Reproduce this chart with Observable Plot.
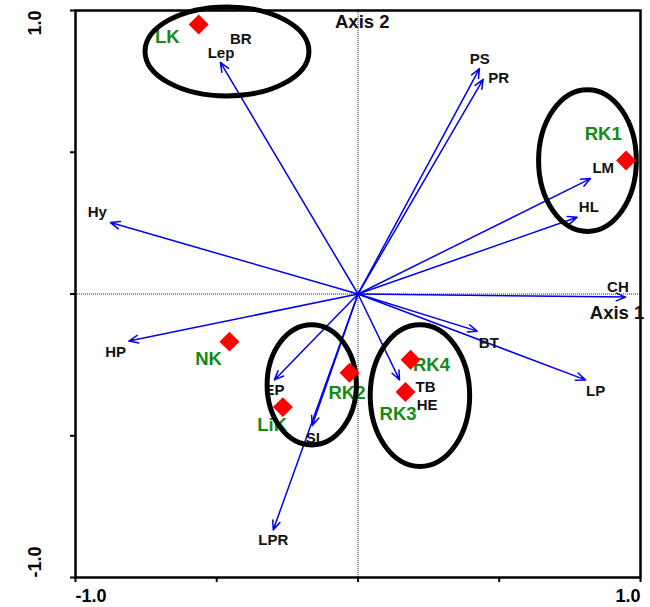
<!DOCTYPE html>
<html>
<head>
<meta charset="utf-8">
<script src="https://cdn.jsdelivr.net/npm/d3@7"></script>
<script src="https://cdn.jsdelivr.net/npm/@observablehq/plot@0.6"></script>
<style>
  html, body { margin: 0; padding: 0; background: #fff; }
  #chart { width: 650px; height: 607px; }
  svg { font-family: "Liberation Sans", Arial, sans-serif; }
</style>
</head>
<body>
<div id="chart"></div>
<script>
// Axis ticks
const xTicks = [-1, -0.5, 0, 0.5, 1];
const yTicks = [-1, -0.5, 0, 0.5, 1];
const tickLabelValues = [-1, 1];
const tickLabels = ["-1.0", "1.0"];

// Species arrows (tip coordinates)
const arrowNames = ["Lep", "Hy", "PS", "PR", "LM", "HL", "CH", "HP", "EP", "SI", "LPR", "BT", "LP", "TB"];
const arrowX = [-0.487, -0.876, 0.430, 0.443, 0.823, 0.776, 0.947, -0.811, -0.296, -0.162, -0.300, 0.422, 0.805, 0.147];
const arrowY = [0.817, 0.252, 0.795, 0.757, 0.407, 0.271, -0.011, -0.166, -0.303, -0.464, -0.832, -0.131, -0.303, -0.303];

// Species labels
const speciesNames = ["Lep", "BR", "Hy", "PS", "PR", "LM", "HL", "CH", "HP", "EP", "SI", "LPR", "BT", "LP", "TB", "HE"];
const speciesX = [-0.485, -0.415, -0.923, 0.431, 0.498, 0.868, 0.817, 0.920, -0.858, -0.296, -0.160, -0.300, 0.463, 0.841, 0.239, 0.245];
const speciesY = [0.850, 0.900, 0.289, 0.830, 0.763, 0.444, 0.306, 0.024, -0.205, -0.340, -0.507, -0.867, -0.174, -0.343, -0.329, -0.393];

// Sites
const siteNames = ["LK", "RK1", "NK", "LiK", "RK2", "RK4", "RK3"];
const siteX = [-0.564, 0.949, -0.455, -0.266, -0.030, 0.186, 0.168];
const siteY = [0.951, 0.471, -0.168, -0.399, -0.278, -0.232, -0.346];
const siteLabelX = [-0.675, 0.868, -0.529, -0.304, -0.039, 0.260, 0.142];
const siteLabelY = [0.908, 0.565, -0.228, -0.464, -0.351, -0.252, -0.425];

// Group ellipses
const ellipseCx = [-0.462, 0.814, -0.162, 0.221];
const ellipseCy = [0.854, 0.469, -0.322, -0.360];
const ellipseRx = [0.290, 0.173, 0.158, 0.176];
const ellipseRy = [0.157, 0.250, 0.212, 0.250];

// Axis titles
const axisTitles = ["Axis 2", "Axis 1"];
const axisTitleX = [0.015, 0.917];
const axisTitleY = [0.959, -0.068];

const arrows = arrowNames.map((n, i) => ({name: n, x: arrowX[i], y: arrowY[i]}));
const species = speciesNames.map((n, i) => ({name: n, x: speciesX[i], y: speciesY[i]}));
const sites = siteNames.map((n, i) => ({name: n, x: siteX[i], y: siteY[i], lx: siteLabelX[i], ly: siteLabelY[i]}));
const ellipses = ellipseCx.map((c, i) => ({cx: c, cy: ellipseCy[i], rx: ellipseRx[i], ry: ellipseRy[i]}));
const titles = axisTitles.map((t, i) => ({t, x: axisTitleX[i], y: axisTitleY[i]}));
const ticksLab = tickLabels.map((t, i) => ({t, v: tickLabelValues[i]}));

const ellipseMark = (index, scales) => {
  const g = d3.create("svg:g");
  for (const e of ellipses) {
    const cx = scales.x(e.cx), cy = scales.y(e.cy);
    g.append("ellipse")
      .attr("cx", cx).attr("cy", cy)
      .attr("rx", Math.abs(scales.x(e.cx + e.rx) - cx))
      .attr("ry", Math.abs(scales.y(e.cy + e.ry) - cy))
      .attr("fill", "none").attr("stroke", "black").attr("stroke-width", 5);
  }
  return g.node();
};

const green = "#158a15";

const chart = Plot.plot({
  width: 650,
  height: 607,
  marginLeft: 75,
  marginRight: 10,
  marginTop: 10,
  marginBottom: 30,
  x: {domain: [-1, 1]},
  y: {domain: [-1, 1]},
  style: {background: "white", fontFamily: "Liberation Sans, Arial, sans-serif"},
  marks: [
    Plot.ruleX([0], {stroke: "#222", strokeWidth: 1, strokeDasharray: "1,1"}),
    Plot.ruleY([0], {stroke: "#222", strokeWidth: 1, strokeDasharray: "1,1"}),
    Plot.axisX({ticks: xTicks, tickSize: 5, tickFormat: () => "", label: null, strokeWidth: 2}),
    Plot.axisY({ticks: yTicks, tickSize: 5, tickFormat: () => "", label: null, strokeWidth: 2}),
    Plot.frame({stroke: "black", strokeWidth: 2.5}),
    Plot.text([ticksLab[0]], {x: "v", y: -1, text: "t", dy: 19, textAnchor: "start", fontWeight: "bold", fontSize: 18, fill: "black"}),
    Plot.text([ticksLab[1]], {x: "v", y: -1, text: "t", dy: 19, textAnchor: "end", fontWeight: "bold", fontSize: 18, fill: "black"}),
    Plot.text([ticksLab[0]], {x: -1, y: "v", text: "t", dx: -40, rotate: -90, textAnchor: "start", fontWeight: "bold", fontSize: 18, fill: "black"}),
    Plot.text([ticksLab[1]], {x: -1, y: "v", text: "t", dx: -40, rotate: -90, textAnchor: "end", fontWeight: "bold", fontSize: 18, fill: "black"}),
    Plot.arrow(arrows, {x1: 0, y1: 0, x2: "x", y2: "y", stroke: "#0000ee", strokeWidth: 1.5, headLength: 10, headAngle: 45}),
    Plot.text(titles, {x: "x", y: "y", text: "t", fontWeight: "bold", fontSize: 18.5, fill: "#111"}),
    Plot.text(species, {x: "x", y: "y", text: "name", fontWeight: "bold", fontSize: 15, fill: "#111"}),
    Plot.text(sites, {x: "lx", y: "ly", text: "name", fontWeight: "bold", fontSize: 18.5, fill: green}),
    ellipseMark,
    Plot.dot(sites, {x: "x", y: "y", symbol: "diamond2", r: 9, fill: "#ff0000", stroke: "none"})
  ]
});
document.getElementById("chart").appendChild(chart);
</script>
</body>
</html>
